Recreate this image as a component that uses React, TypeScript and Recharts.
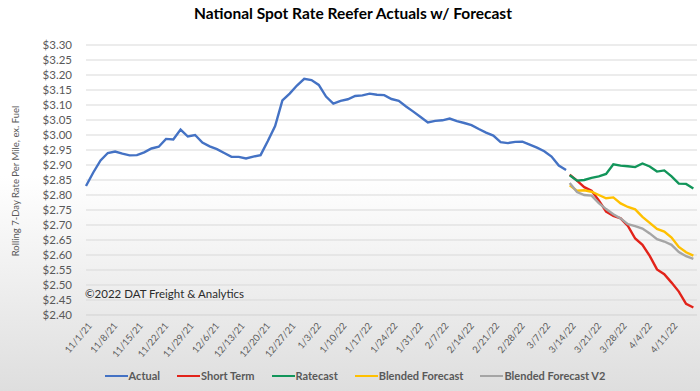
import { LineChart, Line, XAxis, YAxis, CartesianGrid } from 'recharts';

// weekly tick labels, one every 7 days starting 11/1/21
const xTickLabels = [
    '11/1/21', '11/8/21', '11/15/21', '11/22/21', '11/29/21', '12/6/21', '12/13/21', '12/20/21',
    '12/27/21', '1/3/22', '1/10/22', '1/17/22', '1/24/22', '1/31/22', '2/7/22', '2/14/22',
    '2/21/22', '2/28/22', '3/7/22', '3/14/22', '3/21/22', '3/28/22', '4/4/22', '4/11/22',
];

const yTicks = [
    2.4, 2.45, 2.5, 2.55, 2.6, 2.65, 2.7, 2.75, 2.8, 2.85,
    2.9, 2.95, 3.0, 3.05, 3.1, 3.15, 3.2, 3.25, 3.3,
];

// actual: every 2nd day from 11/1/21
const actual = [
    2.83, 2.875, 2.915, 2.94, 2.945, 2.938, 2.932, 2.933, 2.942, 2.955,
    2.961, 2.987, 2.985, 3.018, 2.995, 3.0, 2.975, 2.962, 2.953, 2.94,
    2.927, 2.927, 2.922, 2.928, 2.933, 2.98, 3.03, 3.115, 3.138, 3.165,
    3.187, 3.183, 3.167, 3.128, 3.105, 3.114, 3.119, 3.13, 3.132, 3.138,
    3.134, 3.133, 3.12, 3.114, 3.095, 3.078, 3.06, 3.042, 3.047, 3.049,
    3.055, 3.046, 3.04, 3.033, 3.02, 3.008, 2.998, 2.976, 2.973, 2.977,
    2.978, 2.968, 2.958, 2.946, 2.928, 2.898, 2.883,
];

// forecasts: every 2nd day from 3/14/22
const shortTerm = [
    2.868, 2.848, 2.826, 2.814, 2.782, 2.745, 2.73, 2.722, 2.697,
    2.655, 2.634, 2.597, 2.552, 2.536, 2.508, 2.478, 2.437, 2.425,
];
const ratecast = [
    2.866, 2.848, 2.85, 2.857, 2.862, 2.87, 2.902, 2.898, 2.896,
    2.893, 2.905, 2.895, 2.878, 2.882, 2.862, 2.838, 2.837, 2.822,
];
const blended = [
    2.832, 2.814, 2.816, 2.811, 2.8, 2.789, 2.792, 2.772, 2.76,
    2.752, 2.727, 2.707, 2.687, 2.678, 2.658, 2.627, 2.609, 2.598,
];
const blendedV2 = [
    2.84, 2.81, 2.8, 2.798, 2.773, 2.753, 2.736, 2.722, 2.703,
    2.696, 2.688, 2.672, 2.653, 2.645, 2.634, 2.61, 2.596, 2.587,
];

const FORECAST_START = 133;

type Row = {
    day: number;
    actual?: number;
    shortTerm?: number;
    ratecast?: number;
    blended?: number;
    blendedV2?: number;
};

const rows: Row[] = [];
actual.forEach((v, i) => rows.push({ day: i * 2, actual: v }));
shortTerm.forEach((v, i) =>
    rows.push({
        day: FORECAST_START + i * 2,
        shortTerm: v,
        ratecast: ratecast[i],
        blended: blended[i],
        blendedV2: blendedV2[i],
    })
);

const tickDays = xTickLabels.map((_, i) => i * 7);

const series = [
    { key: 'actual', name: 'Actual', color: '#4472C4' },
    { key: 'shortTerm', name: 'Short Term', color: '#E2231A' },
    { key: 'ratecast', name: 'Ratecast', color: '#12955A' },
    { key: 'blended', name: 'Blended Forecast', color: '#FFC000' },
    { key: 'blendedV2', name: 'Blended Forecast V2', color: '#A5A5A5' },
];

const GREY_TEXT = '#595959';

function DateTick({ x, y, payload }: any) {
    const label = xTickLabels[Math.round(payload.value / 7)];
    return (
        <g transform={`translate(${x + 4},${y + 1})`}>
            <text transform="rotate(-50)" textAnchor="end" dy="0.35em" fontSize={9.5} fill={GREY_TEXT}>
                {label}
            </text>
        </g>
    );
}

export default function App() {
    return (
        <div
            style={{
                position: 'fixed',
                left: 0,
                top: 0,
                width: 700,
                height: 391,
                fontFamily: 'Lato, sans-serif',
                background: 'linear-gradient(180deg, #ffffff 0%, #ffffff 45%, #dedede 100%)',
                overflow: 'hidden',
            }}
        >
            <div
                style={{
                    position: 'absolute',
                    top: 4,
                    left: 0,
                    width: 706,
                    textAlign: 'center',
                    fontSize: 15.5,
                    fontWeight: 700,
                    color: '#000',
                }}
            >
                National Spot Rate Reefer Actuals w/ Forecast
            </div>

            <div
                style={{
                    position: 'absolute',
                    left: 15,
                    top: 181,
                    transform: 'translate(-50%, -50%) rotate(-90deg)',
                    whiteSpace: 'nowrap',
                    fontSize: 9.5,
                    color: GREY_TEXT,
                }}
            >
                Rolling 7-Day Rate Per Mile, ex. Fuel
            </div>

            <LineChart
                width={700}
                height={391}
                data={rows}
                margin={{ top: 45, right: 3, bottom: 16, left: 0 }}
            >
                <CartesianGrid vertical={false} stroke="#d9d9d9" />
                <XAxis
                    type="number"
                    dataKey="day"
                    domain={[0, 168]}
                    ticks={tickDays}
                    interval={0}
                    height={60}
                    tick={<DateTick />}
                    tickLine={false}
                    axisLine={{ stroke: '#d9d9d9' }}
                />
                <YAxis
                    domain={[2.4, 3.3]}
                    ticks={yTicks}
                    interval={0}
                    width={86}
                    tickMargin={8}
                    tickLine={false}
                    axisLine={false}
                    tickFormatter={(v: number) => `$${v.toFixed(2)}`}
                    tick={{ fill: GREY_TEXT, fontSize: 11.5 }}
                />
                {series.map((s) => (
                    <Line
                        key={s.key}
                        type="linear"
                        dataKey={s.key}
                        name={s.name}
                        stroke={s.color}
                        strokeWidth={2.4}
                        dot={false}
                        connectNulls
                        isAnimationActive={false}
                    />
                ))}
            </LineChart>

            <div
                style={{
                    position: 'absolute',
                    left: 85,
                    top: 287,
                    fontSize: 11.5,
                    color: '#2b2b2b',
                }}
            >
                ©2022 DAT Freight &amp; Analytics
            </div>

            <div
                style={{
                    position: 'absolute',
                    left: 0,
                    top: 369,
                    width: 710,
                    display: 'flex',
                    justifyContent: 'center',
                    gap: 17,
                    fontSize: 11,
                    fontWeight: 700,
                    color: GREY_TEXT,
                }}
            >
                {series.map((s) => (
                    <div key={s.key} style={{ display: 'flex', alignItems: 'center', gap: 1 }}>
                        <span style={{ display: 'inline-block', width: 23, height: 2, background: s.color }} />
                        <span>{s.name}</span>
                    </div>
                ))}
            </div>
        </div>
    );
}
